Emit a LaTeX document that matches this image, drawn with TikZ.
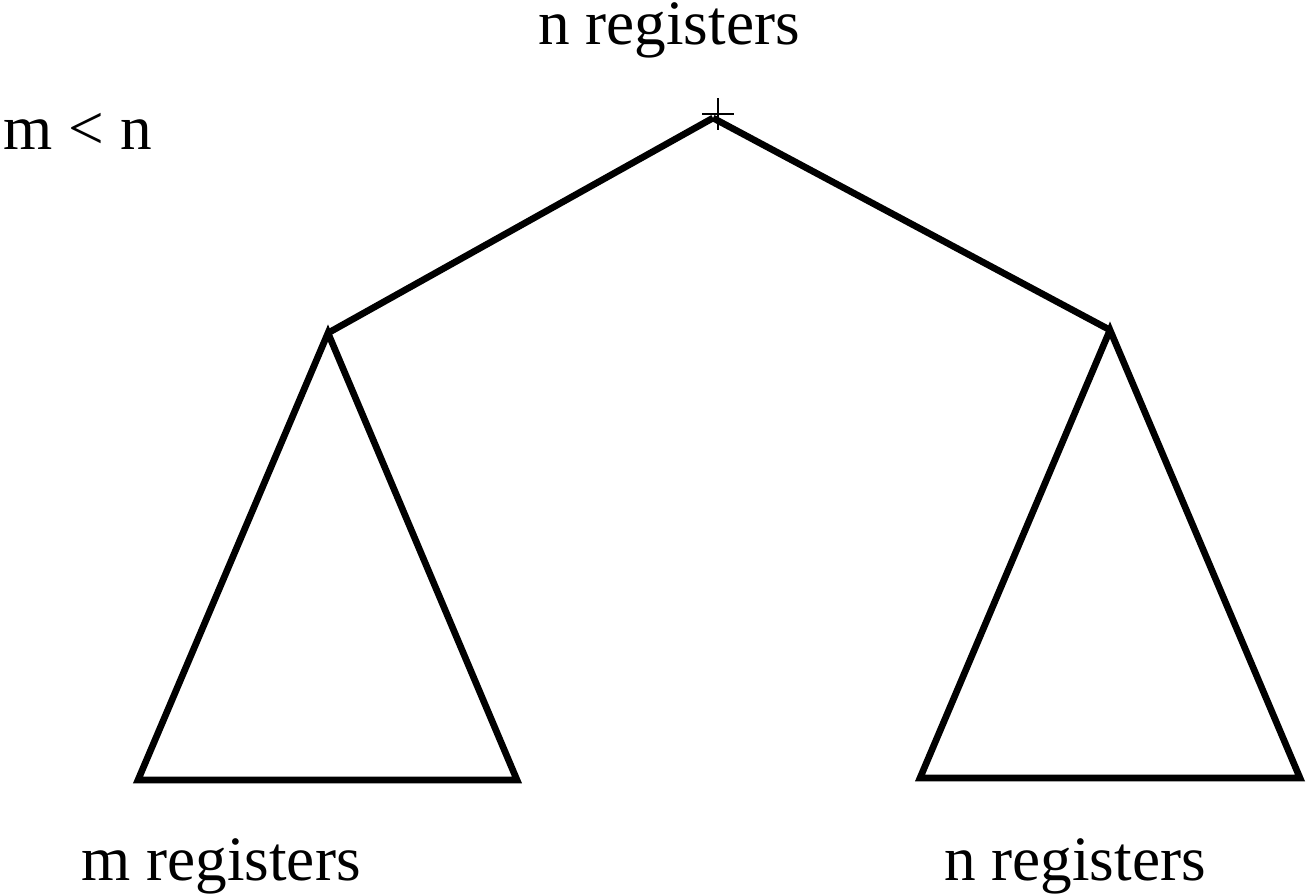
\documentclass[tikz,border=0pt]{standalone}
\usepackage{fontspec}
\setmainfont{Liberation Serif}
\begin{document}
\begin{tikzpicture}[x=0.02cm,y=-0.02cm,
  edge/.style={line width=3.8pt,line join=miter},
  lbl/.style={font=\fontsize{36}{40}\selectfont,inner sep=0pt},
  plusline/.style={line width=1.3pt}]
\useasboundingbox (0,0) rectangle (1306,894);
% nodes
\coordinate (root) at (713,118);
\coordinate (L) at (328,333);
\coordinate (Lbl) at (138,780);
\coordinate (Lbr) at (517,780);
\coordinate (R) at (1110,330);
\coordinate (Rbl) at (920,778);
\coordinate (Rbr) at (1300,778);
% plus mark
\coordinate (pc) at (718,114);
\draw[plusline] ([xshift=-16*0.02cm]pc) -- ([xshift=16*0.02cm]pc);
\draw[plusline] ([yshift=16*0.02cm]pc) -- ([yshift=-16*0.02cm]pc);
% edges
\draw[edge] (root) -- (L);
\draw[edge] (root) -- (R);
\draw[edge] (L) -- (Lbl) -- (Lbr) -- cycle;
\draw[edge] (R) -- (Rbl) -- (Rbr) -- cycle;
% labels
\node[lbl] (top) at (669,30) {n registers};
\node[lbl] (cond) at (78,131) {m < n};
\node[lbl] (ml) at (221,866) {m registers};
\node[lbl] (nr) at (1075,866) {n registers};
\end{tikzpicture}
\end{document}
